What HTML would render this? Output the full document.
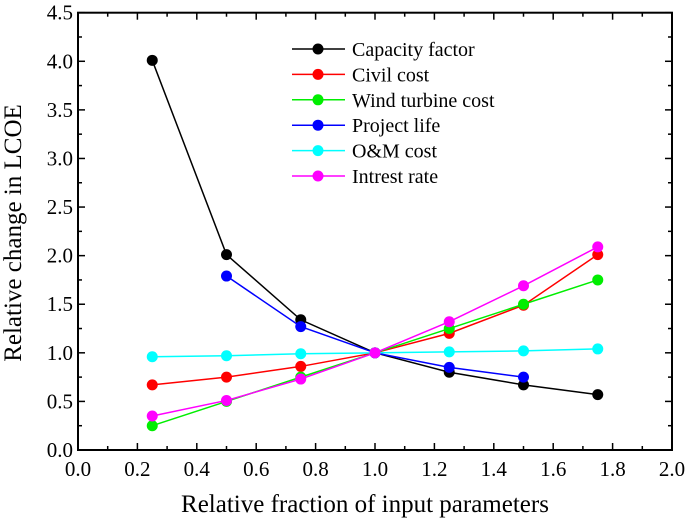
<!DOCTYPE html><html><head><style>body{margin:0;background:#fff}svg{display:block;font-family:"Liberation Serif",serif}</style></head><body>
<svg id="c" width="685" height="522"></svg>
<script>
const xVals=[0.25,0.5,0.75,1.0,1.25,1.5,1.75];
const plVals=[0.5,0.75,1.0,1.25,1.5];
const seriesNames=["Capacity factor","Civil cost","Wind turbine cost","Project life","O&M cost","Intrest rate"];
const seriesColors=["#000","#f00","#0e0","#00f","#0ff","#f0f"];
const capacity=[4.01,2.01,1.34,1.0,0.8,0.67,0.57];
const civil=[0.67,0.75,0.86,1.0,1.2,1.49,2.01];
const wind=[0.25,0.5,0.75,1.0,1.25,1.5,1.75];
const life=[1.79,1.27,1.0,0.85,0.75];
const om=[0.96,0.97,0.99,1.0,1.01,1.02,1.04];
const interest=[0.35,0.51,0.73,1.0,1.32,1.69,2.09];
const xTicks=["0.0","0.2","0.4","0.6","0.8","1.0","1.2","1.4","1.6","1.8","2.0"];
const yTicks=["0.0","0.5","1.0","1.5","2.0","2.5","3.0","3.5","4.0","4.5"];
const L=78,R=672,T=12.7,B=450;
const X=v=>L+(v/2)*(R-L), Y=v=>B-(v/4.5)*(B-T);
const s=document.getElementById('c'),NS="http://www.w3.org/2000/svg";
function mk(t,a,p){const e=document.createElementNS(NS,t);for(const k in a)e.setAttribute(k,a[k]);(p||s).appendChild(e);return e;}
const ax=mk('g',{});


mk('rect',{x:L,y:T,width:R-L,height:B-T,fill:'none',stroke:'#000','stroke-width':2},ax);
for(let i=0;i<=20;i++){const x=X(i*0.1),len=i%2?4:7;mk('line',{x1:x,x2:x,y1:B,y2:B-len,stroke:'#000','stroke-width':1.5},ax);mk('line',{x1:x,x2:x,y1:T,y2:T+len,stroke:'#000','stroke-width':1.5},ax);}
for(let i=0;i<=18;i++){const y=Y(i*0.25),len=i%2?4:7;mk('line',{x1:L,x2:L+len,y1:y,y2:y,stroke:'#000','stroke-width':1.5},ax);mk('line',{x1:R,x2:R-len,y1:y,y2:y,stroke:'#000','stroke-width':1.5},ax);}
xTicks.forEach((t,i)=>{const e=mk('text',{x:X(i*0.2),y:B+26,'text-anchor':'middle','font-size':21},ax);e.textContent=t;});
yTicks.forEach((t,i)=>{const e=mk('text',{x:L-5,y:Y(i*0.5)+7,'text-anchor':'end','font-size':21},ax);e.textContent=t;});
let e=mk('text',{x:(L+R)/2-10,y:512,'text-anchor':'middle','font-size':25});e.textContent="Relative fraction of input parameters";


e=mk('text',{x:21,y:233,'text-anchor':'middle','font-size':25,transform:`rotate(-90 21 233)`});e.textContent="Relative change in LCOE";


const data=[[xVals,capacity],[xVals,civil],[xVals,wind],[plVals,life],[xVals,om],[xVals,interest]];
data.forEach((d,k)=>{const g=mk('g',{});
mk('polyline',{points:d[0].map((x,i)=>X(x)+','+Y(d[1][i])).join(' '),fill:'none',stroke:seriesColors[k],'stroke-width':1.5},g);
d[0].forEach((x,i)=>{const c=mk('circle',{cx:X(x),cy:Y(d[1][i]),r:5.5,fill:seriesColors[k]},g);});});
const lg=mk('g',{});
seriesNames.forEach((n,k)=>{const y=49+k*25.4;const g=mk('g',{},lg);
mk('line',{x1:292,x2:345,y1:y,y2:y,stroke:seriesColors[k],'stroke-width':1.5},g);mk('circle',{cx:318,cy:y,r:5.5,fill:seriesColors[k]},g);
const t=mk('text',{x:352,y:y+7,'font-size':20},g);t.textContent=n;});
</script></body></html>
